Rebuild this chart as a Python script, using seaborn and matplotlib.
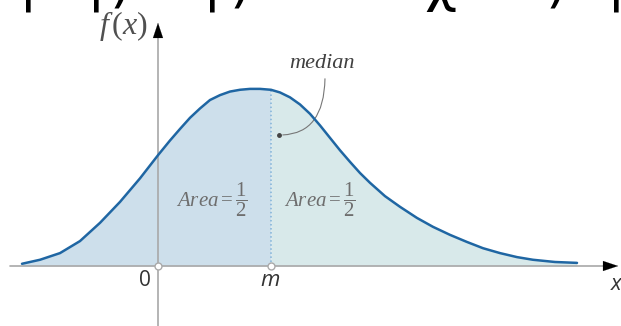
import matplotlib
matplotlib.use("Agg")
import matplotlib.pyplot as plt
import seaborn as sns
import pandas as pd


# Curve (x: 0 at the f-axis, m = 2.5 ; f: density)
x_vals = [-3.009, -2.611, -2.168, -1.726, -1.283, -0.841, -0.398, 0.000, 0.265, 0.487,
          0.708, 0.929, 1.150, 1.372, 1.593, 1.814, 2.035, 2.257, 2.500, 2.699,
          2.920, 3.142, 3.363, 3.584, 3.805, 4.027, 4.248, 4.469, 4.690, 5.022,
          5.354, 5.730, 6.084, 6.460, 6.836, 7.190, 7.566, 7.942, 8.296, 8.783,
          9.270]
f_vals = [0.005, 0.014, 0.029, 0.056, 0.097, 0.144, 0.197, 0.249, 0.282, 0.308,
          0.333, 0.354, 0.373, 0.384, 0.392, 0.396, 0.398, 0.398, 0.396, 0.390,
          0.379, 0.363, 0.342, 0.316, 0.288, 0.260, 0.234, 0.209, 0.187, 0.157,
          0.133, 0.108, 0.088, 0.070, 0.054, 0.040, 0.029, 0.020, 0.014, 0.009,
          0.007]
median_x = 2.5
median_f = 0.396

tick_labels = ["0", "m"]
tick_pos = [0, median_x]
area_label = r"$\mathit{Area} = \dfrac{1}{2}$"

# bits of a cut off line of text above the chart
top_glyphs = ["|", "|", ")", "|", ")", "χ", ")", "|"]
top_x_px = [28, 96, 120, 212, 240, 440, 556, 616]


def px(x, y):
    """Convert picture pixels into the data units used here"""
    return (x - 158) / 45.2, (266 - y) / 445


sns.set_theme(style="white")
plt.rcParams["mathtext.fontset"] = "custom"
plt.rcParams["mathtext.rm"] = "Liberation Serif"
plt.rcParams["mathtext.it"] = "Liberation Serif:italic"

fig = plt.figure(figsize=(6.21, 3.26), dpi=100)
ax = fig.add_axes([0, 0, 1, 1])
x0, y0 = px(0, 326)
x1, y1 = px(621, 0)
ax.set_xlim(x0, x1)
ax.set_ylim(y0, y1)
ax.set_axis_off()

df = pd.DataFrame({"x": x_vals, "f": f_vals})
left = df[df.x <= median_x]
right = df[df.x >= median_x]

# Shaded halves
ax.fill_between(left.x, 0, left.f, color="#cddfeb", lw=0, zorder=1)
ax.fill_between(right.x, 0, right.f, color="#d8e9ea", lw=0, zorder=1)

# axes with arrow heads
ax.plot([px(10, 0)[0], px(612, 0)[0]], [0, 0], color="#a8a8a8", lw=1.2, zorder=2)
ax.plot([0, 0], [y0, px(0, 30)[1]], color="#a8a8a8", lw=1.2, zorder=2)
ax.annotate("", xy=(px(621, 0)[0], 0), xytext=(px(600, 0)[0], 0),
            arrowprops=dict(arrowstyle="-|>,head_length=0.9,head_width=0.3",
                            color="black", lw=0.1), zorder=3)
ax.annotate("", xy=(0, px(0, 20)[1]), xytext=(0, px(0, 40)[1]),
            arrowprops=dict(arrowstyle="-|>,head_length=0.9,head_width=0.3",
                            color="black", lw=0.1), zorder=3)

# median line
ax.plot([median_x, median_x], [0, median_f], ls=":", color="#7fb2d8", lw=1.1, zorder=2)

# the curve
sns.lineplot(data=df, x="x", y="f", ax=ax, color="#1f66a3", lw=1.8,
             estimator=None, sort=False, zorder=4)
ax.set_xlabel("")
ax.set_ylabel("")

# points on the x axis
ax.plot(tick_pos, [0, 0], "o", ms=5, mfc="white", mec="#aaaaaa", mew=1, zorder=5)

# Labels
ax.text(*px(145, 280), tick_labels[0], ha="center", va="center", fontsize=15,
        color="#333333", family="Open Sans")
ax.text(*px(270, 281), tick_labels[1], ha="center", va="center", fontsize=16,
        color="#333333", family="Open Sans", style="italic")
ax.text(*px(616, 284), "x", ha="center", va="center", fontsize=16,
        color="#333333", family="Open Sans", style="italic")
ax.text(*px(123, 26), r"$f\,(x)$", ha="center", va="center", fontsize=23,
        color="#505050")
ax.text(*px(322, 64), "median", ha="center", va="center", fontsize=16,
        color="#404040", family="Liberation Serif", style="italic")
ax.text(*px(212, 200), area_label, ha="center", va="center", fontsize=15,
        color="#6e6e6e")
ax.text(*px(320, 200), area_label, ha="center", va="center", fontsize=15,
        color="#6e6e6e")

# curved pointer from "median" to the line
ax.annotate("", xy=px(280, 135), xytext=px(325, 76),
            arrowprops=dict(arrowstyle="-", color="#777777", lw=0.8,
                            connectionstyle="angle3,angleA=90,angleB=0"))
ax.plot(*px(279, 135), "o", ms=2.5, color="#444444", zorder=5)

# cut off text at the top edge
for g, gx in zip(top_glyphs, top_x_px):
    fig.text(gx / 621, 1 - 12 / 326, g, ha="center", va="bottom", fontsize=40,
             color="black", family="DejaVu Sans")

fig.savefig("out.png", dpi=100)
